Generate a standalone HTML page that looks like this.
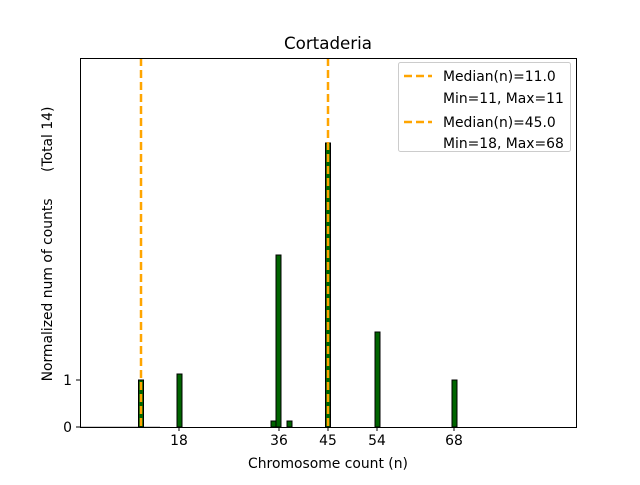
<!DOCTYPE html>
<html><head><style>body{margin:0;background:#fff}</style></head><body>
<svg width="640" height="480" xmlns="http://www.w3.org/2000/svg" font-family="DejaVu Sans, Liberation Sans, sans-serif">
<rect width="640" height="480" fill="#fff"/>
<line x1="80" y1="427" x2="160" y2="427" stroke="#bbb" stroke-width="1.5"/>
<g fill="#006400" stroke="#000" stroke-width="1">
<rect x="138.5" y="380" width="5" height="47"/>
<rect x="177" y="374" width="5" height="53"/>
<rect x="271" y="421" width="5" height="6"/>
<rect x="276" y="255" width="5" height="172"/>
<rect x="287" y="421" width="5" height="6"/>
<rect x="325.5" y="143" width="5" height="284"/>
<rect x="375" y="332" width="5" height="95"/>
<rect x="452" y="380" width="5" height="47"/>
</g>
<g stroke="#FFA500" stroke-width="2.5" stroke-dasharray="8,4">
<line x1="141" y1="58" x2="141" y2="427"/>
<line x1="328" y1="58" x2="328" y2="427"/>
</g>
<rect x="80.5" y="58.5" width="496" height="369" fill="none" stroke="#000" stroke-width="1"/>
<g stroke="#000">
<line x1="179" y1="427" x2="179" y2="431"/><line x1="279" y1="427" x2="279" y2="431"/>
<line x1="328" y1="427" x2="328" y2="431"/><line x1="377" y1="427" x2="377" y2="431"/>
<line x1="454" y1="427" x2="454" y2="431"/>
<line x1="76" y1="427" x2="80" y2="427"/><line x1="76" y1="380" x2="80" y2="380"/>
</g>
<g font-size="13.9" text-anchor="middle" fill="#000">
<text x="179" y="445">18</text><text x="279" y="445">36</text><text x="328" y="445">45</text>
<text x="377" y="445">54</text><text x="454" y="445">68</text>
<text x="328" y="468">Chromosome count (n)</text>
<text x="328" y="49" font-size="16.7">Cortaderia</text>
</g>
<g font-size="13.9" text-anchor="end">
<text x="72" y="432">0</text><text x="72" y="385">1</text>
</g>
<text transform="translate(52,244) rotate(-90)" font-size="13.9" text-anchor="middle" xml:space="preserve">Normalized num of counts      (Total 14)</text>
<rect x="398.5" y="62.5" width="172" height="89" rx="2" fill="#fff" stroke="#ccc"/>
<g stroke="#FFA500" stroke-width="2.5" stroke-dasharray="8,4">
<line x1="404" y1="76" x2="432" y2="76"/><line x1="404" y1="122" x2="432" y2="122"/>
</g>
<g font-size="13.9">
<text x="443" y="81">Median(n)=11.0</text>
<text x="443" y="103">Min=11, Max=11</text>
<text x="443" y="127">Median(n)=45.0</text>
<text x="443" y="148">Min=18, Max=68</text>
</g>
</svg>
</body></html>
